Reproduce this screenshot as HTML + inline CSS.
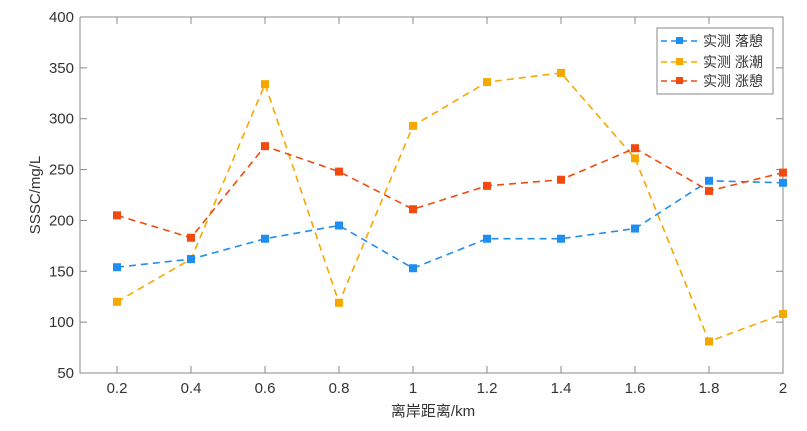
<!DOCTYPE html>
<html><head><style>body{margin:0;background:#fff}svg{display:block}</style></head><body>
<svg width="807" height="431" xmlns="http://www.w3.org/2000/svg" font-family="Liberation Sans, Noto Sans CJK SC, sans-serif">
<rect width="807" height="431" fill="#fff"/>
<g stroke="#888" stroke-width="1" fill="none">
<path d="M80,17V373H783V17H80"/>
</g>
<g id="ticks" stroke="#888"></g>
<g id="lab" font-size="15" fill="#333"></g>
<text x="433" y="416" font-size="15" fill="#333" text-anchor="middle">离岸距离/km</text>
<text transform="translate(40,195) rotate(-90)" font-size="15" fill="#333" text-anchor="middle">SSSC/mg/L</text>
<g id="series"></g>
<rect x="657" y="28" width="116" height="66" fill="#fff" stroke="#888"/>
<g font-size="14" fill="#333">
<line x1="661" y1="41" x2="700" y2="41" stroke="#1f8ef0" stroke-width="1.5" stroke-dasharray="6,4"/><rect x="676" y="37" width="7" height="7" fill="#1f8ef0"/><text x="703" y="46">实测 落憩</text>
<line x1="661" y1="62" x2="700" y2="62" stroke="#f7a800" stroke-width="1.5" stroke-dasharray="6,4"/><rect x="676" y="58" width="7" height="7" fill="#f7a800"/><text x="703" y="67">实测 涨潮</text>
<line x1="661" y1="81" x2="700" y2="81" stroke="#f04a10" stroke-width="1.5" stroke-dasharray="6,4"/><rect x="676" y="77" width="7" height="7" fill="#f04a10"/><text x="703" y="86">实测 涨憩</text>
</g>
</svg>
<script>
const ns="http://www.w3.org/2000/svg";
const X=i=>117+i*74, Y=v=>373-(v-50)*356/350;
const t=document.getElementById('ticks'),l=document.getElementById('lab'),s=document.getElementById('series');
function el(p,tag,a,txt){const e=document.createElementNS(ns,tag);for(const k in a)e.setAttribute(k,a[k]);if(txt)e.textContent=txt;p.appendChild(e);}
const xl=['0.2','0.4','0.6','0.8','1','1.2','1.4','1.6','1.8','2'];
xl.forEach((s0,i)=>{const x=X(i);el(t,'line',{x1:x,x2:x,y1:373,y2:366});el(t,'line',{x1:x,x2:x,y1:17,y2:24});el(l,'text',{x:x,y:393,'text-anchor':'middle'},s0);});
for(let v=50;v<=400;v+=50){const y=Y(v);el(t,'line',{x1:80,x2:87,y1:y,y2:y});el(t,'line',{x1:783,x2:776,y1:y,y2:y});el(l,'text',{x:74,y:y+5,'text-anchor':'end'},String(v));}
const data=[['#f7a800',[120,162,334,119,293,336,345,261,81,108]],['#1f8ef0',[154,162,182,195,153,182,182,192,239,237]],['#f04a10',[205,183,273,248,211,234,240,271,229,247]]];
data.forEach(([c,d])=>{el(s,'polyline',{points:d.map((v,i)=>X(i)+','+Y(v)).join(' '),fill:'none',stroke:c,'stroke-width':1.6,'stroke-dasharray':'7,5'});d.forEach((v,i)=>el(s,'rect',{x:X(i)-4,y:Y(v)-4,width:8,height:8,fill:c}));});
</script>
</body></html>
